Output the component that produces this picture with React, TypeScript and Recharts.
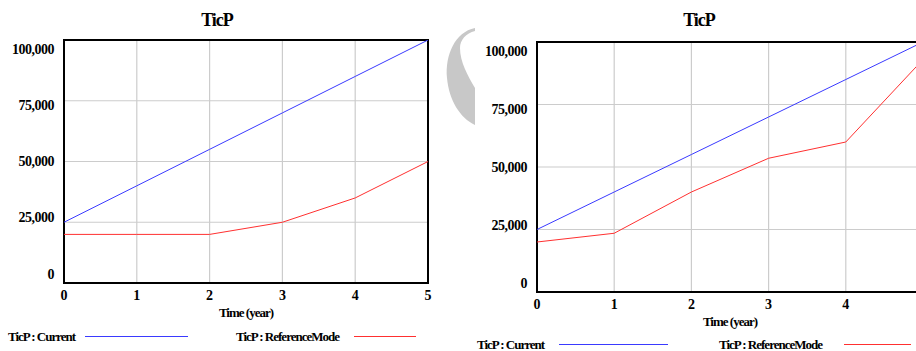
import React from "react";
import {
  LineChart,
  Line,
  XAxis,
  YAxis,
  CartesianGrid,
  ReferenceArea,
} from "recharts";

// time axis (years)
const years = [0, 1, 2, 3, 4, 5];
const yTicks = [0, 25000, 50000, 75000, 100000];

// left run
const currentLeft = [25000, 40000, 55000, 70000, 85000, 100000];
const referenceLeft = [20000, 20000, 20000, 25000, 35000, 50000];

// right run (its last year label falls off the picture)
const currentRight = [25000, 40000, 55000, 70000, 85000, 100000];
const referenceRight = [20000, 23500, 40000, 53500, 60000, 93000];
const rightYearTicks = [0, 1, 2, 3, 4];

const titleText = "TicP";
const axisTitle = "Time (year)";
const currentLabel = "TicP : Current";
const referenceLabel = "TicP : ReferenceMode";

const font = "'Liberation Serif', 'Times New Roman', serif";
const BLUE = "#3a3aff";
const RED = "#ff3030";

const toRows = (current: number[], reference: number[]) =>
  years.map((t, i) => ({ t, current: current[i], reference: reference[i] }));

const fmt = (v: number) => String(v).replace(/\B(?=(\d{3})+(?!\d))/g, ",");

const YTick = ({ x, y, payload }: any) => {
  // labels are pulled in toward the middle of the axis
  const shift = ((payload.value - 50000) / 50000) * 9;
  return (
    <text
      x={x}
      y={y + shift}
      textAnchor="end"
      dominantBaseline="central"
      style={{
        fontFamily: font,
        fontWeight: "bold",
        fontSize: 14,
        letterSpacing: -0.5,
      }}
      fill="#000"
    >
      {fmt(payload.value)}
    </text>
  );
};

const XTick = ({ x, y, payload }: any) => (
  <text
    x={x}
    y={y}
    dy="0.71em"
    textAnchor="middle"
    style={{ fontFamily: font, fontWeight: "bold", fontSize: 14 }}
    fill="#000"
  >
    {payload.value}
  </text>
);

const Caption = ({
  x,
  y,
  text,
  size = 13,
  spacing = -1,
  center = false,
}: {
  x: number;
  y: number;
  text: string;
  size?: number;
  spacing?: number;
  center?: boolean;
}) => (
  <div
    style={{
      position: "absolute",
      left: x,
      top: y,
      transform: center ? "translate(-50%, -50%)" : "translateY(-50%)",
      fontFamily: font,
      fontWeight: "bold",
      fontSize: size,
      letterSpacing: spacing,
      lineHeight: 1,
      whiteSpace: "nowrap",
      color: "#000",
    }}
  >
    {text}
  </div>
);

const Swatch = ({ x1, x2, y, color }: { x1: number; x2: number; y: number; color: string }) => (
  <div
    style={{
      position: "absolute",
      left: x1,
      top: y,
      width: x2 - x1,
      height: 1,
      background: color,
    }}
  />
);

const RunChart = ({
  rows,
  xTicks,
  width,
  height,
  top,
  right,
  yWidth,
  xHeight,
}: {
  rows: any[];
  xTicks: number[];
  width: number;
  height: number;
  top: number;
  right: number;
  yWidth: number;
  xHeight: number;
}) => (
  <LineChart
    width={width}
    height={height}
    data={rows}
    margin={{ top, right, bottom: 0, left: 0 }}
  >
    <CartesianGrid stroke="#cccccc" strokeWidth={1.2} />
    <XAxis
      dataKey="t"
      type="number"
      domain={[0, 5]}
      ticks={xTicks}
      height={xHeight}
      axisLine={false}
      tickLine={false}
      tickSize={0}
      tickMargin={7}
      tick={<XTick />}
      label={{
        value: axisTitle,
        position: "insideTop",
        offset: 25,
        style: {
          fontFamily: font,
          fontWeight: "bold",
          fontSize: 13,
          letterSpacing: -1,
          fill: "#000",
        },
      }}
    />
    <YAxis
      type="number"
      domain={[0, 100000]}
      ticks={yTicks}
      width={yWidth}
      axisLine={false}
      tickLine={false}
      tickSize={0}
      tickMargin={10}
      tick={<YTick />}
      allowDataOverflow
    />
    <Line
      type="linear"
      dataKey="current"
      stroke={BLUE}
      strokeWidth={1}
      dot={false}
      isAnimationActive={false}
    />
    <Line
      type="linear"
      dataKey="reference"
      stroke={RED}
      strokeWidth={1}
      dot={false}
      isAnimationActive={false}
    />
    <ReferenceArea
      x1={0}
      x2={5}
      y1={0}
      y2={100000}
      fill="none"
      stroke="#000"
      strokeWidth={2}
      ifOverflow="visible"
    />
  </LineChart>
);

export default function App() {
  return (
    <div
      style={{
        position: "absolute",
        left: 0,
        top: 0,
        width: 916,
        height: 351,
        overflow: "hidden",
        background: "#fff",
      }}
    >
      <svg
        width={916}
        height={351}
        style={{ position: "absolute", left: 0, top: 0 }}
      >
        <path
          d="M475,28 C455,32 445,55 447,78 C449,100 460,118 475,125 L475,88 C468,76 460,62 460,48 C460,40 466,33 475,31 Z"
          fill="#c8c8c8"
        />
      </svg>

      <div style={{ position: "absolute", left: 0, top: 0 }}>
        <RunChart
          rows={toRows(currentLeft, referenceLeft)}
          xTicks={years}
          width={460}
          height={351}
          top={40}
          right={32}
          yWidth={64}
          xHeight={68}
        />
      </div>
      <div style={{ position: "absolute", left: 456, top: 0 }}>
        <RunChart
          rows={toRows(currentRight, referenceRight)}
          xTicks={rightYearTicks}
          width={480}
          height={351}
          top={42}
          right={13}
          yWidth={81}
          xHeight={59}
        />
      </div>

      <Caption x={217} y={19.5} text={titleText} size={18} spacing={-1} center />
      <Caption x={699} y={20} text={titleText} size={18} spacing={-1} center />

      <Caption x={8} y={336} text={currentLabel} />
      <Swatch x1={85} x2={188} y={336} color={BLUE} />
      <Caption x={236} y={336} text={referenceLabel} />
      <Swatch x1={354} x2={416} y={336} color={RED} />

      <Caption x={477} y={343.5} text={currentLabel} />
      <Swatch x1={559} x2={668} y={344} color={BLUE} />
      <Caption x={719} y={343.5} text={referenceLabel} />
      <Swatch x1={844} x2={911} y={344} color={RED} />
    </div>
  );
}
